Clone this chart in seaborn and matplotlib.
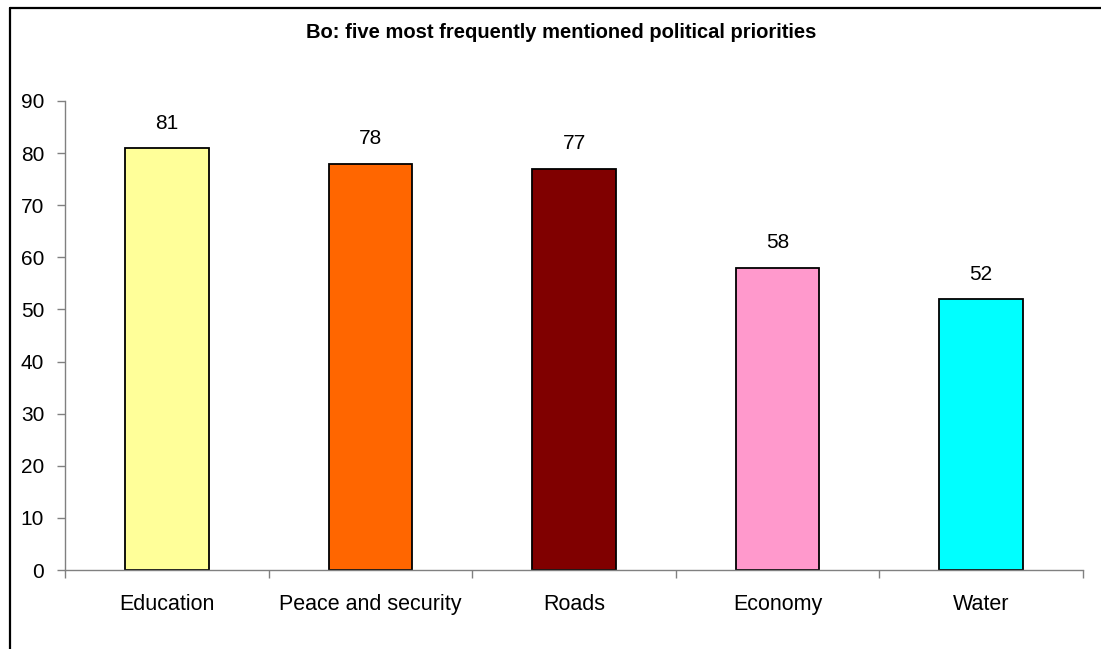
import pandas as pd
import matplotlib.pyplot as plt
import seaborn as sns
from matplotlib.lines import Line2D

# Dados do gráfico
categorias = ['Education', 'Peace and security', 'Roads', 'Economy', 'Water']
valores = [81, 78, 77, 58, 52]
cores = ['#FFFF99', '#FF6600', '#800000', '#FF99CC', '#00FFFF']
titulo = 'Bo: five most frequently mentioned political priorities'

dados = pd.DataFrame({'categoria': categorias, 'valor': valores})

sns.set_style('white')
plt.rcParams['font.family'] = ['Liberation Sans', 'DejaVu Sans']
plt.rcParams['text.color'] = 'black'
plt.rcParams['xtick.color'] = 'black'
plt.rcParams['ytick.color'] = 'black'

fig = plt.figure(figsize=(11.01, 6.49), dpi=100)
ax = fig.add_axes([65 / 1101, 1 - 570 / 649, (1083 - 65) / 1101, (570 - 101) / 649])

sns.barplot(data=dados, x='categoria', y='valor', hue='categoria', palette=cores,
            legend=False, width=0.41, edgecolor='black', linewidth=1.3,
            saturation=1, ax=ax)

# Rótulos de valor acima das barras
for cont in ax.containers:
    ax.bar_label(cont, fontsize=15, padding=11, color='black')

ax.set_ylim(0, 90)
ax.set_xlim(-0.5, len(categorias) - 0.5)
ax.set_yticks(range(0, 91, 10))
ax.set_xlabel('')
ax.set_ylabel('')

# Eixos: apenas esquerda e inferior, em cinza
for lado in ['top', 'right']:
    ax.spines[lado].set_visible(False)
for lado in ['left', 'bottom']:
    ax.spines[lado].set_color('#808080')
    ax.spines[lado].set_linewidth(1)

ax.tick_params(axis='y', which='major', left=True, length=6, width=1,
               color='#808080', labelcolor='black', labelsize=15, pad=9)
ax.set_xticks([i - 0.5 for i in range(len(categorias) + 1)], minor=True)
ax.tick_params(axis='x', which='major', bottom=False, length=0, labelsize=15.5,
               labelcolor='black', pad=17)
ax.tick_params(axis='x', which='minor', bottom=True, length=6, width=1, color='#808080')

# Título
fig.text(561 / 1101, 1 - 33 / 649, titulo, ha='center', va='center',
         fontsize=14.5, fontweight='bold', color='black')

# Moldura (superior e esquerda)
fig.add_artist(Line2D([10 / 1101, 10 / 1101], [0, 1 - 8 / 649], transform=fig.transFigure,
                      color='black', linewidth=1.6))
fig.add_artist(Line2D([10 / 1101, 1], [1 - 8 / 649, 1 - 8 / 649], transform=fig.transFigure,
                      color='black', linewidth=1.6))

fig.savefig('out.png', dpi=100)
